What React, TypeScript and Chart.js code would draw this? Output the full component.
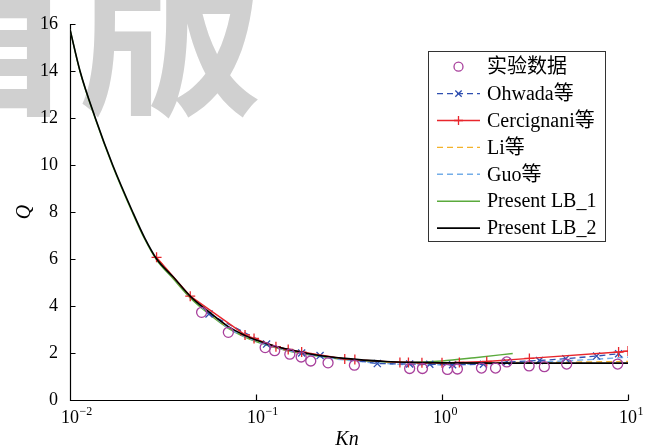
import { useEffect, useRef } from 'react';
import { Chart, registerables } from 'chart.js';
Chart.register(...registerables);

const serif = "'Liberation Serif', 'Times New Roman', 'Noto Sans CJK SC', serif";
const watermarkText = '首版';

const xTicks = [0.01, 0.1, 1, 10];
const xTickExponents = ['−2', '−1', '0', '1'];
const yMin = 0;
const yMax = 16;
const yStep = 2;

// 实验数据 (circles)
const expKn = [0.051, 0.071, 0.112, 0.126, 0.152, 0.175, 0.197, 0.244, 0.338, 0.67, 0.785, 1.07, 1.21, 1.63, 1.94, 2.23, 2.94, 3.55, 4.68, 8.8];
const expQ = [3.73, 2.88, 2.23, 2.1, 1.95, 1.83, 1.66, 1.58, 1.48, 1.34, 1.34, 1.3, 1.32, 1.36, 1.36, 1.62, 1.45, 1.42, 1.53, 1.53];

// Ohwada等
const ohwadaKn = [0.0559, 0.114, 0.176, 0.221, 0.449, 0.67, 0.86, 1.14, 1.67, 2.23, 3.34, 4.63, 6.78, 8.9];
const ohwadaQ = [3.66, 2.38, 2.0, 1.89, 1.55, 1.53, 1.52, 1.5, 1.52, 1.62, 1.68, 1.76, 1.87, 1.97];

// Cercignani等
const cercKn = [0.0292, 0.0443, 0.0873, 0.0976, 0.128, 0.149, 0.176, 0.3, 0.34, 0.594, 0.66, 0.78, 1.0, 1.24, 1.74, 2.95, 8.9, 10];
const cercQ = [6.07, 4.42, 2.77, 2.62, 2.27, 2.15, 2.04, 1.75, 1.72, 1.6, 1.6, 1.58, 1.58, 1.6, 1.64, 1.77, 2.04, 2.08];

// Li等
const liKn = [0.03, 0.045, 0.056, 0.07, 0.1, 0.15, 0.2, 0.3, 0.5, 0.7, 1, 2, 5, 10];
const liQ = [5.95, 4.37, 3.74, 3.12, 2.55, 2.14, 1.94, 1.76, 1.63, 1.59, 1.58, 1.59, 1.61, 1.64];

// Guo等
const guoKn = [0.05, 0.056, 0.07, 0.1, 0.15, 0.2, 0.3, 0.5, 0.7, 1, 2, 3, 5, 10];
const guoQ = [3.98, 3.74, 3.1, 2.5, 2.1, 1.9, 1.7, 1.55, 1.5, 1.5, 1.55, 1.6, 1.68, 1.82];

// Present LB_1
const lb1Kn = [0.01, 0.01132, 0.01368, 0.01696, 0.02173, 0.0252, 0.02925, 0.036, 0.0445, 0.056, 0.071, 0.1, 0.15, 0.2, 0.3, 0.5, 0.7, 1, 1.5, 2.4];
const lb1Q = [15.77, 13.98, 11.97, 9.96, 7.95, 6.85, 5.95, 5.15, 4.33, 3.65, 3.05, 2.48, 2.08, 1.9, 1.72, 1.62, 1.6, 1.66, 1.8, 1.98];

// Present LB_2
const lb2Kn = [0.01, 0.01132, 0.01368, 0.01696, 0.02173, 0.0252, 0.02925, 0.036, 0.0445, 0.056, 0.071, 0.087, 0.1, 0.128, 0.15, 0.2, 0.3, 0.5, 0.7, 1, 2, 5, 10];
const lb2Q = [15.77, 14.0, 12.0, 10.0, 8.0, 6.9, 6.0, 5.22, 4.4, 3.74, 3.12, 2.75, 2.55, 2.28, 2.15, 1.95, 1.77, 1.64, 1.6, 1.58, 1.57, 1.57, 1.57];

const colors = {
  exp: '#a8409c',
  ohwada: '#2f4fb0',
  cerc: '#e8262c',
  li: '#f4b22a',
  guo: '#74aee8',
  lb1: '#5aaa3c',
  lb2: '#000000',
};

const pts = (xs: number[], ys: number[]) => xs.map((x, i) => ({ x, y: ys[i] }));

function drawMarker(ctx: CanvasRenderingContext2D, style: string, x: number, y: number, r: number, color: string, lw: number) {
  ctx.save();
  ctx.strokeStyle = color;
  ctx.lineWidth = lw;
  ctx.setLineDash([]);
  ctx.beginPath();
  if (style === 'circle') {
    ctx.arc(x, y, r, 0, Math.PI * 2);
  } else if (style === 'crossRot') {
    const d = r * Math.SQRT1_2;
    ctx.moveTo(x - d, y - d); ctx.lineTo(x + d, y + d);
    ctx.moveTo(x + d, y - d); ctx.lineTo(x - d, y + d);
  } else if (style === 'cross') {
    ctx.moveTo(x - r, y); ctx.lineTo(x + r, y);
    ctx.moveTo(x, y - r); ctx.lineTo(x, y + r);
  }
  ctx.stroke();
  ctx.restore();
}

const customPlugin = {
  id: 'custom',
  beforeDraw(chart: any) {
    const ctx = chart.ctx as CanvasRenderingContext2D;
    ctx.save();
    ctx.fillStyle = '#ffffff';
    ctx.fillRect(0, 0, chart.width, chart.height);
    ctx.fillStyle = '#d0d0d0';
    ctx.font = "bold 185px 'Noto Sans CJK SC'";
    ctx.textBaseline = 'alphabetic';
    ctx.textAlign = 'left';
    ctx.fillText(watermarkText, -107, 100);
    ctx.restore();
  },
  beforeDatasetsDraw(chart: any) {
    const ctx = chart.ctx as CanvasRenderingContext2D;
    const { left, right, top, bottom } = chart.chartArea;
    const xs = chart.scales.x;
    const ys = chart.scales.y;
    ctx.save();
    ctx.strokeStyle = '#000';
    ctx.lineWidth = 1.2;
    ctx.beginPath();
    const L = Math.round(left) + 0.5;
    const B = Math.round(bottom) + 0.5;
    ctx.moveTo(L, top);
    ctx.lineTo(L, B);
    ctx.lineTo(right, B);
    for (let v = yMin; v <= yMax; v += yStep) {
      const py = Math.round(ys.getPixelForValue(v)) + 0.5;
      ctx.moveTo(L, py);
      ctx.lineTo(L + 5, py);
    }
    xTicks.forEach((v) => {
      const px = Math.round(xs.getPixelForValue(v)) + 0.5;
      ctx.moveTo(px, B);
      ctx.lineTo(px, B - 6);
    });
    ctx.stroke();

    ctx.fillStyle = '#000';
    ctx.textBaseline = 'alphabetic';
    xTicks.forEach((v, i) => {
      const px = xs.getPixelForValue(v);
      ctx.font = `18px ${serif}`;
      const w = ctx.measureText('10').width;
      ctx.textAlign = 'left';
      ctx.fillText('10', px - w / 2, 423);
      ctx.font = `12px ${serif}`;
      ctx.fillText(xTickExponents[i], px + w / 2 + 0.5, 415);
    });

    ctx.font = `italic 20px ${serif}`;
    ctx.textAlign = 'center';
    ctx.fillText('Kn', (left + right) / 2 - 2, 445);
    ctx.save();
    ctx.translate(30, (top + bottom) / 2);
    ctx.rotate(-Math.PI / 2);
    ctx.fillText('Q', 0, 0);
    ctx.restore();
    ctx.restore();
  },
  afterDraw(chart: any) {
    const ctx = chart.ctx as CanvasRenderingContext2D;
    const bx = 428.5, by = 51.5, bw = 177, bh = 190;
    ctx.save();
    ctx.fillStyle = '#fff';
    ctx.fillRect(bx, by, bw, bh);
    ctx.strokeStyle = '#333';
    ctx.lineWidth = 1;
    ctx.setLineDash([]);
    ctx.strokeRect(bx, by, bw, bh);
    const x0 = 437, x1 = 480, xm = 458.5, tx = 487;
    chart.data.datasets.forEach((ds: any, i: number) => {
      const y = 66.7 + i * 26.9;
      if (ds.showLine !== false) {
        ctx.save();
        ctx.strokeStyle = ds.borderColor;
        ctx.lineWidth = ds.borderWidth;
        ctx.setLineDash(ds.borderDash || []);
        ctx.beginPath();
        ctx.moveTo(x0, y);
        ctx.lineTo(x1, y);
        ctx.stroke();
        ctx.restore();
      }
      if (ds.pointRadius > 0) {
        drawMarker(ctx, ds.pointStyle, xm, y, ds.pointRadius - 0.5, ds.pointBorderColor || ds.borderColor, ds.pointBorderWidth || 1.2);
      }
      ctx.fillStyle = '#000';
      ctx.font = `20px ${serif}`;
      ctx.textAlign = 'left';
      ctx.textBaseline = 'middle';
      ctx.fillText(ds.label, tx, y + 1);
    });
    ctx.restore();
  },
};

export default function App() {
  const ref = useRef<HTMLCanvasElement | null>(null);
  useEffect(() => {
    if (!ref.current) return;
    const lineBase = { pointRadius: 0, pointHoverRadius: 0, borderWidth: 1.4, fill: false };
    const chart = new Chart(ref.current, {
      type: 'scatter',
      data: {
        datasets: [
          { label: '实验数据', data: pts(expKn, expQ), showLine: false, pointStyle: 'circle', pointRadius: 5, pointHoverRadius: 5, borderColor: colors.exp, pointBorderColor: colors.exp, backgroundColor: 'rgba(0,0,0,0)', pointBackgroundColor: 'rgba(0,0,0,0)', pointBorderWidth: 1.3, borderWidth: 1.3, order: 0 } as any,
          { label: 'Ohwada等', data: pts(ohwadaKn, ohwadaQ), showLine: true, borderColor: colors.ohwada, borderWidth: 1.3, borderDash: [6, 4], pointStyle: 'crossRot', pointRadius: 5, pointHoverRadius: 5, pointBorderColor: colors.ohwada, pointBorderWidth: 1.3, fill: false, order: 3 } as any,
          { label: 'Cercignani等', data: pts(cercKn, cercQ), showLine: true, borderColor: colors.cerc, borderWidth: 1.4, pointStyle: 'cross', pointRadius: 5, pointHoverRadius: 5, pointBorderColor: colors.cerc, pointBorderWidth: 1.3, fill: false, order: 2 } as any,
          { ...lineBase, label: 'Li等', data: pts(liKn, liQ), showLine: true, borderColor: colors.li, borderDash: [6, 4], cubicInterpolationMode: 'monotone', order: 5 } as any,
          { ...lineBase, label: 'Guo等', data: pts(guoKn, guoQ), showLine: true, borderColor: colors.guo, borderDash: [6, 4], cubicInterpolationMode: 'monotone', order: 4 } as any,
          { ...lineBase, label: 'Present LB_1', data: pts(lb1Kn, lb1Q), showLine: true, borderColor: colors.lb1, cubicInterpolationMode: 'monotone', order: 6 } as any,
          { ...lineBase, label: 'Present LB_2', data: pts(lb2Kn, lb2Q), showLine: true, borderColor: colors.lb2, borderWidth: 1.6, cubicInterpolationMode: 'monotone', order: 1 } as any,
        ],
      },
      options: {
        animation: false,
        responsive: false,
        devicePixelRatio: 1,
        events: [],
        layout: { padding: { top: 24, right: 31, left: 0, bottom: 0 } },
        plugins: { legend: { display: false }, tooltip: { enabled: false } },
        scales: {
          x: {
            type: 'logarithmic',
            min: 0.01,
            max: 10,
            grid: { display: false, drawTicks: false },
            border: { display: false },
            ticks: { display: false },
            afterBuildTicks: (s: any) => { s.ticks = xTicks.map((v) => ({ value: v })); },
            afterFit: (s: any) => { s.height = 47; },
          },
          y: {
            type: 'linear',
            min: yMin,
            max: yMax,
            grid: { display: false, drawTicks: false },
            border: { display: false },
            ticks: { stepSize: yStep, padding: 12, color: '#000', font: { family: serif, size: 18 } },
            afterFit: (s: any) => { s.width = 70; },
          },
        },
      } as any,
      plugins: [customPlugin],
    });
    return () => chart.destroy();
  }, []);
  return (
    <div style={{ position: 'fixed', left: 0, top: 0, width: 659, height: 447 }}>
      <canvas ref={ref} width={659} height={447} style={{ width: 659, height: 447, display: 'block' }} />
    </div>
  );
}
